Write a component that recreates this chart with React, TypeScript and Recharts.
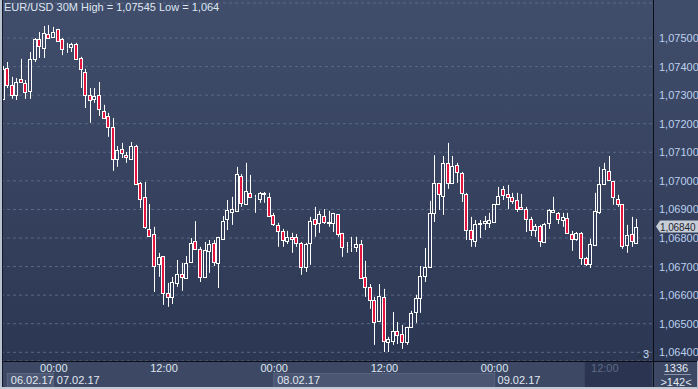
import { Bar, CartesianGrid, ComposedChart, ReferenceLine, XAxis, YAxis } from 'recharts'

const W = 698
const H = 389
const FONT = '"Liberation Sans", Arial, sans-serif'

// 30M EUR/USD candles
const opens = [
  1.07287, 1.07395, 1.07336, 1.07301, 1.07357, 1.07343, 1.07315, 1.07427, 1.07497, 1.07465,
  1.07514, 1.07504, 1.07532, 1.07497, 1.07465, 1.07469, 1.07479, 1.0743, 1.07381, 1.07301,
  1.07287, 1.07301, 1.07245, 1.07227, 1.07189, 1.07077, 1.07112, 1.07091, 1.07077, 1.07122,
  1.06993, 1.06944, 1.06832, 1.06814, 1.06709, 1.06737, 1.06608, 1.06594, 1.06643, 1.06674,
  1.0666, 1.06716, 1.0679, 1.06762, 1.06664, 1.06755, 1.06783, 1.06713, 1.06797, 1.06867,
  1.06891, 1.06895, 1.07017, 1.06919, 1.06958, 1.06944, 1.06937, 1.06958, 1.06944, 1.06881,
  1.06846, 1.06825, 1.0679, 1.06804, 1.06804, 1.06783, 1.06699, 1.06783, 1.06867, 1.06853,
  1.06877, 1.06856, 1.06853, 1.06884, 1.06818, 1.06769, 1.06769, 1.06769, 1.06779, 1.06664,
  1.06629, 1.06583, 1.0651, 1.06594, 1.06436, 1.0644, 1.06475, 1.06464, 1.06436, 1.06489,
  1.06541, 1.0659, 1.06667, 1.06699, 1.06888, 1.06993, 1.06947, 1.07063, 1.06993, 1.07056,
  1.07028, 1.06954, 1.06828, 1.0679, 1.06849, 1.06853, 1.06853, 1.06856, 1.06919, 1.06972,
  1.06954, 1.06944, 1.06933, 1.06909, 1.06901, 1.06867, 1.06828, 1.06842, 1.06786, 1.06853,
  1.06891, 1.06888, 1.06863, 1.0687, 1.06814, 1.06797, 1.06818, 1.0673, 1.06709, 1.06776,
  1.06891, 1.06989, 1.07035, 1.07, 1.06937, 1.06919, 1.06776, 1.06814, 1.06783,
]
const highs = [
  1.07402, 1.07416, 1.07364, 1.0736, 1.07427, 1.07353, 1.07451, 1.075, 1.07521, 1.07542,
  1.07545, 1.07539, 1.07532, 1.075, 1.07483, 1.07483, 1.07483, 1.07434, 1.07392, 1.07325,
  1.07325, 1.07346, 1.07266, 1.07238, 1.0722, 1.07122, 1.07133, 1.07101, 1.07136, 1.07126,
  1.06996, 1.06996, 1.06919, 1.06839, 1.06748, 1.06737, 1.06643, 1.06664, 1.06723, 1.06713,
  1.06737, 1.068, 1.06859, 1.06769, 1.06786, 1.06793, 1.06793, 1.06804, 1.06877, 1.06933,
  1.06944, 1.07049, 1.07024, 1.07063, 1.07021, 1.06951, 1.06961, 1.06961, 1.06958, 1.06888,
  1.06853, 1.06832, 1.06825, 1.06818, 1.06814, 1.06786, 1.06783, 1.06874, 1.06909, 1.06895,
  1.06901, 1.06895, 1.06888, 1.06884, 1.06818, 1.06786, 1.06804, 1.06804, 1.06793, 1.0672,
  1.06639, 1.06594, 1.06639, 1.06622, 1.06454, 1.06541, 1.06506, 1.06496, 1.06489, 1.06545,
  1.06601, 1.06702, 1.06765, 1.0693, 1.0709, 1.06993, 1.07087, 1.07133, 1.07087, 1.07063,
  1.07031, 1.06958, 1.06874, 1.06863, 1.06863, 1.06877, 1.06888, 1.06919, 1.06979, 1.06982,
  1.06986, 1.06958, 1.06958, 1.06954, 1.06909, 1.06874, 1.06849, 1.06846, 1.06853, 1.06901,
  1.06944, 1.06891, 1.06888, 1.06888, 1.06825, 1.06821, 1.06821, 1.06734, 1.06797, 1.06958,
  1.07049, 1.07063, 1.07087, 1.07, 1.06951, 1.06919, 1.06846, 1.06874, 1.06867,
]
const lows = [
  1.07283, 1.07325, 1.07287, 1.07283, 1.07343, 1.07287, 1.07287, 1.07416, 1.0743, 1.0743,
  1.07497, 1.075, 1.07486, 1.0744, 1.07448, 1.07451, 1.07423, 1.07325, 1.07255, 1.07203,
  1.07273, 1.07227, 1.07217, 1.07154, 1.07035, 1.07049, 1.0708, 1.07063, 1.07073, 1.06986,
  1.06905, 1.06832, 1.06804, 1.06611, 1.06664, 1.06566, 1.06559, 1.06569, 1.06629, 1.06615,
  1.0666, 1.06713, 1.06762, 1.06646, 1.0666, 1.06678, 1.06702, 1.06625, 1.06793, 1.06828,
  1.06846, 1.06895, 1.06909, 1.06919, 1.06944, 1.06888, 1.06923, 1.06923, 1.06874, 1.06842,
  1.06769, 1.06769, 1.06779, 1.06748, 1.06769, 1.06671, 1.06681, 1.06706, 1.06804, 1.06818,
  1.06849, 1.06839, 1.06821, 1.06804, 1.06734, 1.06748, 1.06751, 1.06751, 1.06657, 1.06594,
  1.06552, 1.06426, 1.0651, 1.06401, 1.06401, 1.06426, 1.06429, 1.06412, 1.06426, 1.06485,
  1.06503, 1.06538, 1.06646, 1.06699, 1.06856, 1.06898, 1.06881, 1.06972, 1.06989, 1.06993,
  1.06926, 1.06793, 1.06769, 1.06769, 1.068, 1.06828, 1.06835, 1.06856, 1.06916, 1.06933,
  1.06901, 1.06919, 1.06891, 1.06898, 1.06821, 1.06807, 1.06804, 1.06769, 1.06786, 1.06832,
  1.06888, 1.06849, 1.06839, 1.06818, 1.06755, 1.0679, 1.06706, 1.06702, 1.06695, 1.06776,
  1.06884, 1.06986, 1.07, 1.06916, 1.06909, 1.06762, 1.06748, 1.06769, 1.06779,
]
const closes = [
  1.07392, 1.07336, 1.07301, 1.07346, 1.07346, 1.07311, 1.07427, 1.07497, 1.07472, 1.07518,
  1.075, 1.07521, 1.0749, 1.07462, 1.07465, 1.07479, 1.07427, 1.07392, 1.07301, 1.07283,
  1.07297, 1.07252, 1.0722, 1.07189, 1.07077, 1.07108, 1.07098, 1.07084, 1.07122, 1.06989,
  1.06937, 1.06839, 1.06807, 1.06702, 1.06734, 1.06608, 1.06594, 1.06646, 1.06674, 1.06664,
  1.06713, 1.06783, 1.06762, 1.06664, 1.06758, 1.06779, 1.06716, 1.06804, 1.06859, 1.06898,
  1.06901, 1.07024, 1.06923, 1.06965, 1.06944, 1.06944, 1.06958, 1.06954, 1.06877, 1.06849,
  1.06825, 1.06793, 1.06804, 1.06797, 1.06783, 1.06699, 1.06779, 1.06859, 1.06849, 1.06884,
  1.06856, 1.06853, 1.06888, 1.06814, 1.06769, 1.06769, 1.0677, 1.06779, 1.0666, 1.06629,
  1.06583, 1.06506, 1.06597, 1.0644, 1.06447, 1.06475, 1.06461, 1.06436, 1.06489, 1.06538,
  1.0659, 1.06667, 1.06699, 1.06888, 1.06993, 1.06954, 1.07063, 1.06993, 1.07052, 1.07031,
  1.06958, 1.06828, 1.06797, 1.06849, 1.06853, 1.06859, 1.06863, 1.06919, 1.06947, 1.06951,
  1.06944, 1.0693, 1.06901, 1.06901, 1.06867, 1.06828, 1.06842, 1.0679, 1.06849, 1.06898,
  1.06898, 1.06867, 1.06874, 1.06818, 1.06797, 1.06818, 1.0673, 1.06709, 1.06779, 1.06895,
  1.06989, 1.07042, 1.07003, 1.06944, 1.06919, 1.06772, 1.06811, 1.0679, 1.0684,
]

const slotCount = 142
const timeTicks = [11, 35, 59, 83, 107, 131]
const timeLabels = ['00:00', '12:00', '00:00', '12:00', '00:00', '12:00']
const dateLabels = ['07.02.17', '', '08.02.17', '', '09.02.17', '']
const firstDate = '06.02.17'
const yTicks = [1.064, 1.065, 1.066, 1.067, 1.068, 1.069, 1.07, 1.071, 1.072, 1.073, 1.074, 1.075]
const yDomain = [1.063695, 1.076225]
const lastPrice = 1.0684
const title = 'EUR/USD 30M High = 1,07545 Low = 1,064'
const barsTotal = '1336'
const barsVisible = '>142<'

const data = Array.from({ length: slotCount }, (_, i) => ({
  i,
  open: opens[i],
  high: highs[i],
  low: lows[i],
  close: closes[i],
  range: i < opens.length ? [lows[i], highs[i]] : null,
}))

const fmt = (v: number) => v.toFixed(5).replace('.', ',')

function Candle(props: any) {
  const { x, y, width, height, payload } = props
  if (!payload || payload.open == null || !isFinite(y) || !isFinite(height)) return null
  const { open, close, high, low } = payload
  const span = high - low || 1
  const py = (v: number) => y + ((high - v) / span) * height
  const cx = Math.floor(x + width / 2) + 0.5
  const top = Math.round(py(Math.max(open, close))) + 0.5
  const bot = Math.max(Math.round(py(Math.min(open, close))) + 0.5, top)
  const up = close >= open
  return (
    <g>
      <line x1={cx} x2={cx} y1={y} y2={top} stroke="#ffffff" strokeWidth={1} />
      <line x1={cx} x2={cx} y1={bot} y2={y + height} stroke="#ffffff" strokeWidth={1} />
      <rect x={cx - 2} y={top} width={3} height={bot - top} fill={up ? 'none' : '#e3143e'} stroke="#ffffff" strokeWidth={1} />
    </g>
  )
}

function TimeTick(props: any) {
  const { x, y, payload } = props
  const k = timeTicks.indexOf(payload.value)
  if (k < 0) return <g />
  const dim = k === timeTicks.length - 1
  const date = dateLabels[k]
  return (
    <g fontFamily={FONT} fontSize={11}>
      {k === 0 && (
        <g>
          <rect x={x - 46.5} y={y + 12.5} width={46} height={14} fill="#4c5874" stroke="#5b6783" />
          <text x={x - 43} y={y + 23} fill="#e2e8f2">{firstDate}</text>
        </g>
      )}
      {k === 2 && <rect x={x - 0.5} y={y + 12.5} width={221} height={14} fill="#4a5672" stroke="#56627e" />}
      {dim && <rect x={x - 20.5} y={y + 0.5} width={68} height={26} fill="#2b3551" stroke="#3b4763" />}
      <text x={x} y={y + 11} textAnchor="middle" fill={dim ? '#5e6a84' : '#dfe6f1'}>{timeLabels[k]}</text>
      {date && <text x={x + 3} y={y + 23} fill="#e2e8f2">{date}</text>}
    </g>
  )
}

function PriceTick(props: any) {
  const { x, y, payload } = props
  return (
    <text x={x + 6} y={y + 4} fill="#bcd0ee" fontFamily={FONT} fontSize={11}>
      {fmt(payload.value)}
    </text>
  )
}

function PriceTag(props: any) {
  const vb = props.viewBox
  if (!vb) return null
  const x = vb.x + vb.width + 3
  const y = vb.y
  return (
    <g>
      <path d={`M${x} ${y} L${x + 4} ${y - 6} L${x + 42} ${y - 6} L${x + 42} ${y + 6} L${x + 4} ${y + 6} Z`} fill="#c7cdd6" />
      <text x={x + 4} y={y + 4} fill="#1e2532" fontFamily={FONT} fontSize={10} letterSpacing={-0.1}>{fmt(lastPrice)}</text>
    </g>
  )
}

export default function App() {
  return (
    <div
      style={{
        position: 'fixed',
        left: 0,
        top: 0,
        width: W,
        height: H,
        overflow: 'hidden',
        fontFamily: FONT,
        background: 'linear-gradient(180deg, #414e6b 0%, #2c3753 92%)',
      }}
    >
      <div style={{ position: 'absolute', left: 0, top: 361, width: W, height: 28, background: '#3c4864' }} />
      <div style={{ position: 'absolute', left: 0, top: 0 }}>
        <ComposedChart width={W} height={H} data={data} margin={{ top: 3, right: 0, bottom: 0, left: 1 }}>
          <CartesianGrid
            stroke="#5a6886"
            strokeDasharray="3 3"
            verticalCoordinatesGenerator={({ xAxis }: any) => {
              const s = xAxis?.scale
              if (typeof s !== 'function') return []
              const bw = typeof s.bandwidth === 'function' ? s.bandwidth() : 0
              return timeTicks.map((t) => s(t) + bw / 2)
            }}
          />
          <XAxis
            dataKey="i"
            type="category"
            interval={0}
            height={28}
            axisLine={false}
            tickLine={false}
            tickSize={0}
            tickMargin={0}
            tick={(p: any) => <TimeTick {...p} />}
          />
          <YAxis
            orientation="right"
            type="number"
            domain={yDomain}
            ticks={yTicks}
            allowDataOverflow
            width={45}
            axisLine={false}
            tickLine={false}
            tickSize={0}
            tickMargin={0}
            tick={(p: any) => <PriceTick {...p} />}
          />
          <Bar dataKey="range" barSize={4} isAnimationActive={false} shape={(p: any) => <Candle {...p} />} />
          <ReferenceLine y={lastPrice} stroke="none" label={(p: any) => <PriceTag {...p} />} />
        </ComposedChart>
      </div>

      <div style={{ position: 'absolute', left: 4, top: 1, fontSize: 11, color: '#dfe6f2', whiteSpace: 'nowrap' }}>{title}</div>

      <div style={{ position: 'absolute', left: 653, top: 0, width: 1, height: 387, background: '#0c0f16' }} />
      <div style={{ position: 'absolute', left: 3, top: 361, width: W - 3, height: 1, background: '#0c0f16' }} />

      <div style={{ position: 'absolute', left: 636, top: 354, width: 0, height: 0, borderLeft: '4px solid transparent', borderRight: '4px solid transparent', borderBottom: '4px solid #2a3346' }} />
      <div style={{ position: 'absolute', left: 643, top: 348, fontSize: 11, color: '#c8daf4' }}>3</div>

      <div style={{ position: 'absolute', left: 654, top: 362, width: 44, textAlign: 'center', fontSize: 11, color: '#e2e8f2', lineHeight: '12px' }}>{barsTotal}</div>
      <div style={{ position: 'absolute', left: 664, top: 374, width: 27, height: 1, background: '#8a94a8' }} />
      <div style={{ position: 'absolute', left: 654, top: 376, width: 44, textAlign: 'center', fontSize: 11, color: '#e2e8f2', lineHeight: '12px' }}>{barsVisible}</div>

      <div style={{ position: 'absolute', left: 0, top: 0, width: 2, height: H, background: '#b9c2d0' }} />
      <div style={{ position: 'absolute', left: 2, top: 0, width: 1, height: H, background: '#141925' }} />
      <div style={{ position: 'absolute', left: 0, top: 387, width: W, height: 2, background: '#c3cad6' }} />
      <div style={{ position: 'absolute', left: 697, top: 361, width: 1, height: 28, background: '#aeb8c8' }} />
    </div>
  )
}
